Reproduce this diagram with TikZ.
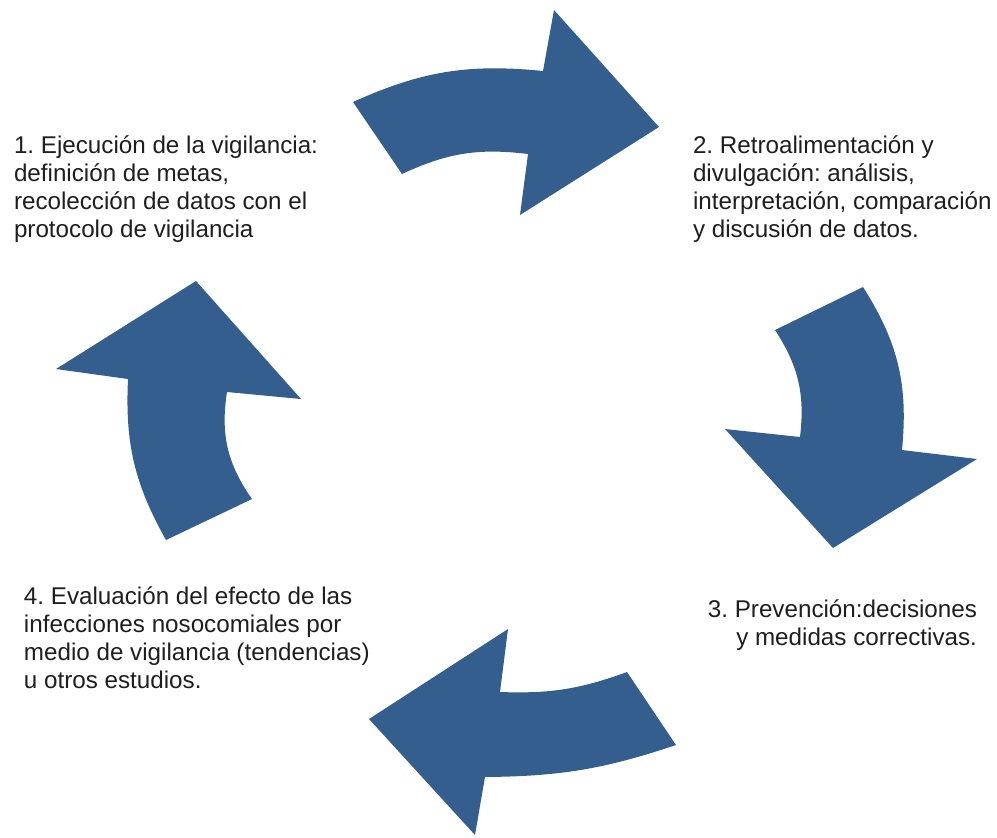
\documentclass[tikz,border=0pt]{standalone}
\usepackage{fontspec}
\setmainfont{Liberation Sans}
\definecolor{arrowblue}{RGB}{52,94,142}
\definecolor{txtgray}{RGB}{30,30,30}
\tikzset{
  cyclearrow/.style={fill=arrowblue, draw=none},
  label/.style={inner sep=0pt, outer sep=0pt, text=txtgray,
    font=\fontsize{12.1pt}{13.85pt}\selectfont\frenchspacing}
}
\begin{document}
\begin{tikzpicture}[x=0.5pt,y=-0.5pt]
\useasboundingbox (0,0) rectangle (997,837);
% arrow 1 (top)
\fill[cyclearrow] (353,102) to[bend left=15] (543,71) -- (554,10) -- (659,127)
  -- (520,215) -- (528,154) to[bend right=16] (402,174) -- cycle;
% arrow 2 (right)
\fill[cyclearrow] (863,287) to[bend left=19] (902,450) -- (977,459) -- (833,548)
  -- (725,429) -- (800,437) to[bend right=20] (775,330) -- cycle;
% arrow 3 (bottom)
\fill[cyclearrow] (627,672) to[bend left=11] (500,692) -- (508,629) -- (369,719)
  -- (475,835) -- (485,777) to[bend right=9] (676,745) -- cycle;
% arrow 4 (left)
\fill[cyclearrow] (166,540) to[bend left=16] (128,379) -- (56,369) -- (196,281)
  -- (301,399) -- (227,392) to[bend right=22] (252,499) -- cycle;
% texts (base anchor = baseline of the last line)
\node[label, anchor=base west, align=left] (t1) at (14,237)
  {1. Ejecución de la vigilancia:\\definición de metas,\\recolección de datos con el\\protocolo de vigilancia};
\node[label, anchor=base west, align=left] (t2) at (693,237)
  {2. Retroalimentación y\\divulgación: análisis,\\interpretación, comparación\\y discusión de datos.};
\node[label, anchor=base east, align=right] (t3) at (977,645)
  {3. Prevención:decisiones\\y medidas correctivas.};
\node[label, anchor=base west, align=left] (t4) at (24,688)
  {4. Evaluación del efecto de las\\infecciones nosocomiales por\\medio de vigilancia (tendencias)\\u otros estudios.};
\end{tikzpicture}
\end{document}
